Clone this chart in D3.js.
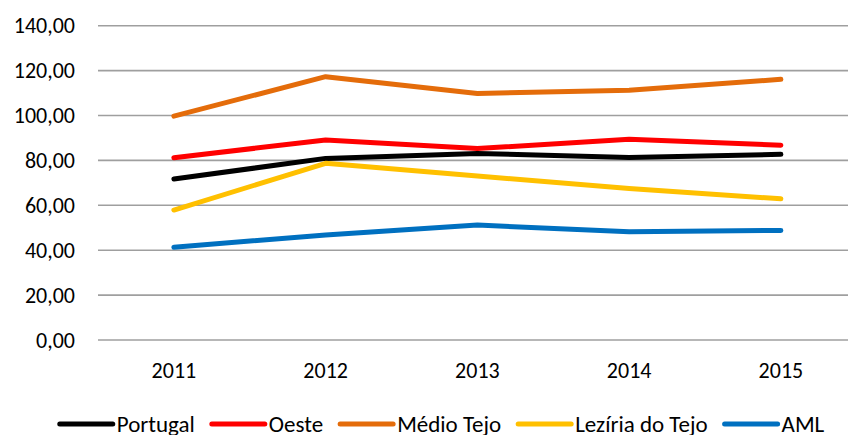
<!DOCTYPE html>
<html>
<head>
<meta charset="utf-8">
<script src="https://cdn.jsdelivr.net/npm/d3@7"></script>
<style>
  html, body { margin: 0; padding: 0; background: #fff; }
  svg { display: block; font-family: Carlito, Lato, "Open Sans", sans-serif; }
</style>
</head>
<body>
<svg id="chart" width="848" height="435"></svg>
<script>
// Anos e séries (índice por região)
const years = ["2011", "2012", "2013", "2014", "2015"];
const seriesNames = ["Portugal", "Oeste", "Médio Tejo", "Lezíria do Tejo", "AML"];
const seriesColors = ["#000000", "#FF0000", "#E46C0A", "#FFC000", "#0070C0"];
const portugal = [71.7, 80.9, 83.1, 81.3, 82.7];
const oeste = [81.2, 89.1, 85.3, 89.4, 86.8];
const medioTejo = [99.7, 117.3, 109.8, 111.3, 116.1];
const leziria = [57.9, 78.7, 73.0, 67.5, 62.9];
const aml = [41.3, 46.8, 51.2, 48.2, 48.8];
const yTicks = [0, 20, 40, 60, 80, 100, 120, 140];

const seriesValues = [portugal, oeste, medioTejo, leziria, aml];
const series = seriesNames.map((name, i) => ({
  name, color: seriesColors[i],
  values: years.map((y, j) => ({ year: y, value: seriesValues[i][j] }))
}));

const svg = d3.select("#chart");
const font = "Carlito, Lato, 'Open Sans', sans-serif";

const x = d3.scaleBand().domain(years).range([98, 856.75]);
const y = d3.scaleLinear().domain([0, 140]).range([340, 25.7]);

const fmt = v => d3.format(".2f")(v).replace(".", ",");

// Grelha horizontal
svg.append("g")
  .selectAll("line")
  .data(yTicks)
  .join("line")
  .attr("x1", 98).attr("x2", 848)
  .attr("y1", d => y(d)).attr("y2", d => y(d))
  .attr("stroke", "#9f9f9f")
  .attr("stroke-width", 1.6);

// Eixo Y
const yAxis = svg.append("g")
  .attr("transform", "translate(98,0)")
  .call(d3.axisLeft(y).tickValues(yTicks).tickFormat(fmt).tickSize(0).tickPadding(23));
yAxis.select(".domain").remove();
yAxis.selectAll("text")
  .attr("font-size", 22)
  .attr("fill", "#000")
  .attr("font-family", font);

// Eixo X
const xAxis = svg.append("g")
  .attr("transform", "translate(0,340)")
  .call(d3.axisBottom(x).tickSize(0).tickPadding(22));
xAxis.select(".domain").remove();
xAxis.selectAll("text")
  .attr("font-size", 22)
  .attr("fill", "#000")
  .attr("font-family", font);

// Linhas
const line = d3.line()
  .x(d => x(d.year) + x.bandwidth() / 2)
  .y(d => y(d.value));

svg.append("g")
  .selectAll("path")
  .data(series)
  .join("path")
  .attr("d", d => line(d.values))
  .attr("fill", "none")
  .attr("stroke", d => d.color)
  .attr("stroke-width", 5)
  .attr("stroke-linecap", "round")
  .attr("stroke-linejoin", "round");

// Legenda
const legend = svg.append("g");
const symW = 53, symGap = 4, itemGap = 17, legY = 424;
const items = legend.selectAll("g")
  .data(series)
  .join("g");
items.append("line")
  .attr("x1", 0).attr("x2", symW)
  .attr("y1", 0).attr("y2", 0)
  .attr("stroke", d => d.color)
  .attr("stroke-width", 5)
  .attr("stroke-linecap", "round");
items.append("text")
  .attr("x", symW + symGap)
  .attr("y", 8)
  .attr("font-size", 23)
  .attr("fill", "#000")
  .attr("font-family", font)
  .text(d => d.name);

let offs = [];
let cx = 0;
items.each(function () {
  const w = d3.select(this).select("text").node().getComputedTextLength();
  offs.push(cx);
  cx += symW + symGap + w + itemGap;
});
const total = cx - itemGap;
const startX = 442 - total / 2;
items.attr("transform", (d, i) => `translate(${startX + offs[i]},${legY})`);
</script>
</body>
</html>
